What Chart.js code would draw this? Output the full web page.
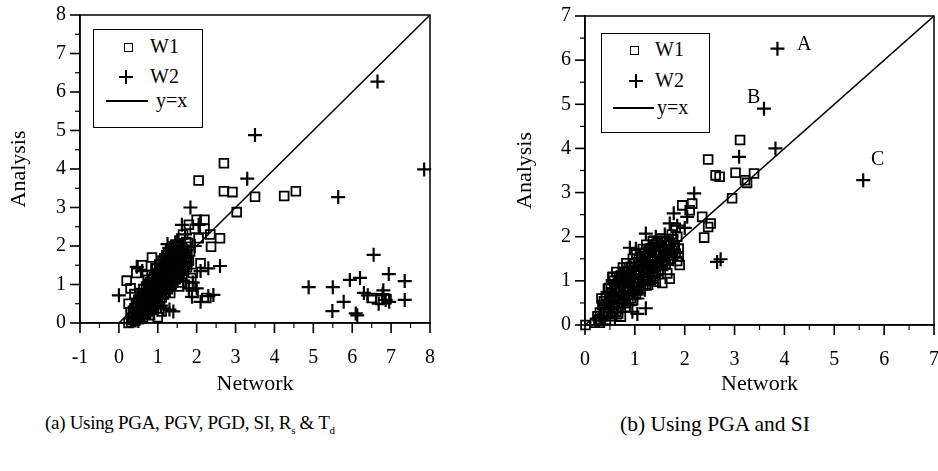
<!DOCTYPE html>
<html lang="en">
<head>
<meta charset="UTF-8">
<title>Network vs Analysis</title>
<script src="https://cdn.jsdelivr.net/npm/chart.js"></script>
<style>
    body {
        margin: 0;
        width: 938px;
        height: 471px;
        overflow: hidden;
        background: #fff;
        font-family: "Times New Roman", "Liberation Serif", Times, serif;
        color: #000;
        position: relative;
    }
    .panel { position: absolute; top: 0; height: 400px; }
    #panelA { left: 0; width: 469px; }
    #panelB { left: 469px; width: 475px; }
    .legend {
        position: absolute;
        border: 1.5px solid #000;
        background: #fff;
        font-size: 20px;
    }
    .legend .sq {
        position: absolute;
        width: 7px; height: 7px;
        border: 1.8px solid #000;
    }
    .legend .cr { position: absolute; width: 14px; height: 14px; }
    .legend .cr:before, .legend .cr:after { content: ''; position: absolute; background: #000; }
    .legend .cr:before { left: 6px; top: 0; width: 2.2px; height: 14px; }
    .legend .cr:after { left: 0; top: 6px; width: 14px; height: 2.2px; }
    .legend .ln { position: absolute; height: 1.5px; background: #000; }
    .legend .txt { position: absolute; }
    .note { position: absolute; font-size: 20px; }
    .caption { position: absolute; top: 412px; white-space: nowrap; }
    .caption sub { font-size: 11px; }
</style>
</head>
<body>

<div class="panel" id="panelA"><canvas id="chartA"></canvas></div>
<div class="panel" id="panelB"><canvas id="chartB"></canvas></div>

<div class="legend" style="left:93px; top:29px; width:108px; height:97px;">
    <div class="sq" style="left:30px; top:13px;"></div><div class="txt" style="left:56px; top:5px;">W1</div>
    <div class="cr" style="left:25px; top:40px;"></div><div class="txt" style="left:56px; top:35px;">W2</div>
    <div class="ln" style="left:12px; top:70px; width:42px;"></div><div class="txt" style="left:62px; top:59px;">y=x</div>
</div>
<div class="legend" style="left:601px; top:33px; width:107px; height:98px;">
    <div class="sq" style="left:28px; top:12px;"></div><div class="txt" style="left:53px; top:4px;">W1</div>
    <div class="cr" style="left:27px; top:40px;"></div><div class="txt" style="left:53px; top:35px;">W2</div>
    <div class="ln" style="left:11px; top:73px; width:41px;"></div><div class="txt" style="left:55px; top:62px;">y=x</div>
</div>

<div class="note" style="left:797px; top:32px;">A</div>
<div class="note" style="left:747px; top:85px;">B</div>
<div class="note" style="left:871px; top:147px;">C</div>

<div class="caption" style="left:45px; font-size:19px; letter-spacing:-0.3px;">(a) Using PGA, PGV, PGD, SI, R<sub>s</sub> &amp; T<sub>d</sub></div>
<div class="caption" style="left:620px; font-size:21.5px;">(b) Using PGA and SI</div>

<script>
    // panel (a): six inputs
    const w1A = [
        [2.7,4.15],[2.05,3.7],[2.7,3.42],[2.92,3.4],[3.5,3.28],[3.03,2.88],[4.25,3.3],[4.55,3.42],
        [0.2,1.1],[2.0,2.68],[2.2,2.68],[2.6,2.2],[2.37,1.98],[2.1,1.55],[1.86,1.17],[2.25,0.65],
        [1.92,0.78],[0.25,0.0],[0.25,0.5],[0.85,1.7],[1.32,0.78],[0.8,0.2],[6.5,0.65],[6.72,0.6],[6.88,0.62],
        [2.2,2.45],[2.35,2.3],[1.8,2.55],[1.75,1.45],[1.9,1.3],[1.6,1.05],[1.55,0.95],[0.3,0.9],
        [0.45,1.3],[0.6,1.5],[0.4,0.75],[1.1,0.3],[1.0,0.15],[0.9,0.35],[1.85,0.95],[2.05,2.2],
        [1.65,2.3],[1.95,2.45],
        [0.32,0.02],[0.35,0.14],[0.3,0.28],
        [0.42,0.06],[0.45,0.22],[0.4,0.38],[0.44,0.52],
        [0.52,0.1],[0.5,0.27],[0.55,0.42],[0.5,0.6],[0.54,0.78],
        [0.62,0.14],[0.6,0.32],[0.65,0.5],[0.6,0.66],[0.63,0.88],
        [0.7,0.22],[0.73,0.4],[0.68,0.57],[0.72,0.75],[0.7,0.95],[0.74,1.12],
        [0.8,0.34],[0.83,0.52],[0.78,0.7],[0.82,0.9],[0.8,1.06],[0.84,1.25],
        [0.9,0.46],[0.92,0.62],[0.88,0.82],[0.93,1.0],[0.9,1.2],[0.94,1.42],
        [1.0,0.55],[1.03,0.76],[0.98,0.95],[1.02,1.12],[1.0,1.3],[1.04,1.52],
        [1.1,0.66],[1.12,0.86],[1.08,1.05],[1.13,1.25],[1.1,1.44],[1.12,1.62],
        [1.2,0.8],[1.22,1.0],[1.18,1.2],[1.23,1.36],[1.2,1.56],[1.22,1.76],
        [1.3,0.94],[1.32,1.14],[1.28,1.32],[1.33,1.5],[1.3,1.7],[1.32,1.9],
        [1.4,1.06],[1.42,1.26],[1.38,1.45],[1.43,1.65],[1.4,1.85],
        [1.5,1.2],[1.52,1.4],[1.48,1.6],[1.53,1.8],[1.5,2.0],
        [1.6,1.35],[1.62,1.55],[1.58,1.76],[1.63,1.95],
        [1.7,1.5],[1.72,1.7],[1.68,1.9],[1.73,2.1],
        [1.8,1.62],[1.83,1.86],[1.78,2.08],
        // second, offset layer of the dense core
        [0.37,0.08],[0.36,0.32],[0.47,0.14],[0.48,0.44],[0.57,0.2],[0.56,0.52],[0.58,0.7],
        [0.66,0.24],[0.67,0.42],[0.66,0.74],[0.76,0.3],[0.77,0.48],[0.76,0.64],[0.77,0.86],[0.77,1.02],
        [0.86,0.42],[0.87,0.6],[0.85,0.78],[0.87,0.98],[0.86,1.14],[0.97,0.5],[0.96,0.7],[0.95,0.88],
        [0.97,1.06],[0.96,1.24],[0.97,1.4],[1.06,0.62],[1.07,0.8],[1.05,0.98],[1.07,1.18],[1.06,1.36],
        [1.16,0.74],[1.17,0.92],[1.15,1.12],[1.17,1.3],[1.16,1.5],[1.17,1.68],[1.26,0.88],[1.27,1.06],
        [1.25,1.26],[1.27,1.44],[1.26,1.62],[1.26,1.82],[1.36,1.0],[1.37,1.2],[1.35,1.38],[1.37,1.58],
        [1.36,1.76],[1.46,1.14],[1.47,1.32],[1.45,1.52],[1.47,1.72],[1.46,1.9],[1.56,1.28],[1.57,1.46],
        [1.55,1.66],[1.57,1.86],[1.66,1.44],[1.67,1.62],[1.65,1.82],[1.76,1.58],[1.76,1.8],[1.75,1.98]
    ];
    const w2A = [
        [6.65,6.27],[3.5,4.88],[3.3,3.75],[7.85,3.99],[5.64,3.27],[6.55,1.77],[4.88,0.93],[5.5,0.93],
        [5.94,1.12],[6.2,1.17],[6.94,1.27],[7.35,1.09],[5.78,0.55],[5.49,0.31],[6.09,0.25],[6.13,0.2],
        [6.3,0.78],[6.4,0.72],[6.78,0.75],[6.86,0.6],[6.68,0.5],[7.35,0.6],[6.95,0.55],[6.8,0.85],
        [0.0,0.72],[1.84,3.0],[1.62,2.55],[2.05,2.55],[2.6,1.48],[2.3,1.42],[2.1,0.55],[2.43,0.73],
        [2.3,0.7],[1.88,0.68],[2.0,0.9],[1.15,0.38],[1.4,0.3],[1.08,0.45],[1.3,0.35],[0.46,1.46],
        [0.6,1.35],[1.9,1.05],[1.65,1.1],[2.1,1.35],[1.7,2.3],[1.3,1.95],[1.5,2.15],[1.95,2.0],
        [1.8,0.9],[1.25,2.05],[1.45,2.1],
        [0.5,0.05],[0.6,0.2],[0.7,0.45],[0.8,0.6],[0.9,0.75],[1.0,0.9],[1.1,1.1],[1.2,1.3],
        [1.3,1.45],[1.4,1.6],[1.5,1.75],[1.6,1.85],[0.65,0.8],[0.85,1.1],[1.05,1.35],[1.25,1.6],
        [1.45,1.45],[1.55,1.3],[1.35,1.15],[1.15,0.95],[0.95,0.55],[0.75,0.3],[0.55,0.5],[1.7,1.6],[1.6,2.0],
        [0.45,0.3],[0.58,0.62],[0.72,0.62],[0.82,0.85],[0.92,1.0],[1.02,1.2],[1.12,1.4],[1.22,1.5],
        [1.32,1.65],[1.42,1.8],[1.52,1.55],[1.62,1.7],[0.88,0.4],[1.0,0.7],[1.1,0.8],[1.22,1.05]
    ];

    // panel (b): PGA and SI only
    const w1B = [
        [3.11,4.19],[2.47,3.75],[2.62,3.39],[2.7,3.36],[3.02,3.45],[3.39,3.43],[3.21,3.28],[3.25,3.22],
        [2.95,2.87],[2.15,2.75],[1.95,2.71],[2.35,2.45],[2.47,2.22],[2.52,2.3],[2.39,1.98],[1.9,1.36],
        [1.65,1.17],[1.42,0.98],[1.55,0.95],[0.01,0.0],[0.72,0.19],[0.56,1.09],[1.88,1.73],[1.88,1.55],
        [1.7,1.05],[1.85,1.45],[2.1,2.6],[0.3,0.05],
        [0.2,0.05],[0.25,0.2],
        [0.32,0.1],[0.3,0.28],[0.35,0.45],[0.33,0.6],
        [0.42,0.12],[0.4,0.3],[0.45,0.48],[0.42,0.65],[0.46,0.82],
        [0.52,0.2],[0.55,0.38],[0.5,0.56],[0.54,0.74],[0.52,0.92],[0.55,1.08],
        [0.62,0.3],[0.6,0.48],[0.65,0.66],[0.62,0.84],[0.66,1.0],[0.63,1.2],
        [0.72,0.4],[0.75,0.58],[0.7,0.76],[0.74,0.94],[0.72,1.12],[0.76,1.3],
        [0.82,0.5],[0.8,0.68],[0.85,0.86],[0.82,1.04],[0.86,1.22],[0.83,1.4],
        [0.92,0.6],[0.95,0.78],[0.9,0.96],[0.94,1.14],[0.92,1.32],[0.96,1.5],
        [1.02,0.7],[1.0,0.88],[1.05,1.06],[1.02,1.24],[1.06,1.42],[1.03,1.6],
        [1.12,0.82],[1.15,1.0],[1.1,1.18],[1.14,1.36],[1.12,1.54],[1.16,1.72],
        [1.22,0.92],[1.2,1.1],[1.25,1.28],[1.22,1.46],[1.26,1.64],[1.23,1.82],
        [1.32,1.02],[1.35,1.2],[1.3,1.38],[1.34,1.56],[1.32,1.74],[1.36,1.9],
        [1.42,1.15],[1.4,1.32],[1.45,1.5],[1.42,1.68],[1.46,1.86],
        [1.52,1.25],[1.55,1.42],[1.5,1.6],[1.54,1.78],[1.52,1.96],
        [1.62,1.38],[1.6,1.55],[1.65,1.72],[1.62,1.9],
        [1.72,1.5],[1.75,1.68],[1.7,1.86],[1.74,2.05],
        [1.82,1.62],[1.8,1.8],[1.85,2.0],[1.82,2.2],
        // second, offset layer of the dense core
        [0.27,0.12],[0.37,0.2],[0.38,0.38],[0.38,0.54],[0.47,0.26],[0.48,0.4],[0.49,0.66],[0.48,0.84],
        [0.57,0.3],[0.58,0.46],[0.57,0.64],[0.59,0.82],[0.58,1.0],[0.67,0.4],[0.68,0.56],[0.67,0.74],
        [0.69,0.92],[0.68,1.1],[0.77,0.5],[0.78,0.66],[0.77,0.84],[0.79,1.02],[0.78,1.2],[0.87,0.6],
        [0.88,0.76],[0.87,0.94],[0.89,1.12],[0.88,1.3],[0.97,0.68],[0.98,0.86],[0.97,1.04],[0.99,1.22],
        [0.98,1.4],[1.07,0.78],[1.08,0.96],[1.07,1.14],[1.09,1.32],[1.08,1.5],[1.17,0.9],[1.18,1.08],
        [1.17,1.26],[1.19,1.44],[1.18,1.62],[1.27,1.0],[1.28,1.18],[1.27,1.36],[1.29,1.54],[1.28,1.72],
        [1.37,1.1],[1.38,1.28],[1.37,1.46],[1.39,1.64],[1.38,1.82],[1.47,1.22],[1.48,1.4],[1.47,1.58],
        [1.49,1.76],[1.57,1.34],[1.58,1.52],[1.57,1.7],[1.59,1.88],[1.67,1.46],[1.68,1.64],[1.67,1.82],
        [1.77,1.58],[1.78,1.76],[1.77,1.94]
    ];
    const w2B = [
        [3.86,6.26],[3.59,4.9],[3.82,4.0],[3.09,3.81],[5.58,3.28],[2.72,1.49],[2.65,1.43],[2.19,2.98],
        [2.05,2.45],[1.78,2.53],[1.22,0.38],[0.95,0.3],[1.05,0.25],[1.22,2.07],[1.02,1.73],[1.42,2.0],
        [1.7,2.3],[2.0,2.2],[1.85,2.25],[0.9,1.75],
        [0.3,0.2],[0.4,0.45],[0.5,0.3],[0.55,0.65],[0.65,0.5],[0.7,0.9],[0.8,0.7],[0.85,1.1],
        [0.95,0.95],[1.0,1.3],[1.1,1.15],[1.15,1.5],[1.25,1.35],[1.3,1.7],[1.4,1.55],[1.45,1.85],
        [1.55,1.7],[1.6,2.05],[1.75,1.9],[0.6,0.15],[0.75,0.3],[0.9,0.45],[1.05,0.6],[1.2,0.8],[1.35,0.95],
        [0.45,0.7],[0.6,0.95],[0.75,1.15],[0.9,1.3],[1.05,1.5],[1.2,1.65],[1.35,1.8],[1.5,1.45],
        [0.8,0.5],[1.0,0.75],[1.15,0.95],[1.3,1.2],[1.45,1.3],[1.65,1.55]
    ];

    const rangeA = { xMin: -1, xMax: 8, yMin: 0, yMax: 8 };
    const rangeB = { xMin: 0, xMax: 7, yMin: 0, yMax: 7 };

    const FONT = '"Times New Roman", "Liberation Serif", Times, serif';
    const toPts = arr => arr.map(p => ({ x: p[0], y: p[1] }));

    // frame round the plot area plus long/short ticks at every half unit
    const framePlugin = {
        id: 'frame',
        afterDraw(chart) {
            const { ctx, chartArea: a, scales } = chart;
            ctx.save();
            ctx.strokeStyle = '#000';
            ctx.lineWidth = 1.5;
            ctx.strokeRect(a.left, a.top, a.right - a.left, a.bottom - a.top);
            const xs = scales.x, ys = scales.y;
            for (let v = xs.min; v <= xs.max + 1e-9; v += 0.5) {
                const major = Math.abs(v - Math.round(v)) < 1e-9;
                const px = xs.getPixelForValue(v);
                ctx.lineWidth = major ? 1.6 : 1.2;
                ctx.beginPath();
                ctx.moveTo(px, a.bottom);
                ctx.lineTo(px, a.bottom + (major ? 10 : 5));
                ctx.stroke();
            }
            for (let v = ys.min; v <= ys.max + 1e-9; v += 0.5) {
                const major = Math.abs(v - Math.round(v)) < 1e-9;
                const py = ys.getPixelForValue(v);
                ctx.lineWidth = major ? 1.6 : 1.2;
                ctx.beginPath();
                ctx.moveTo(a.left, py);
                ctx.lineTo(a.left - (major ? 10 : 5), py);
                ctx.stroke();
            }
            ctx.restore();
        }
    };

    function makeChart(id, w1, w2, range, pad, yWidth, xHeight) {
        return new Chart(document.getElementById(id), {
            type: 'scatter',
            data: {
                datasets: [
                    {
                        label: 'W1',
                        data: toPts(w1),
                        pointStyle: 'rect',
                        pointRadius: 6.2,
                        borderColor: '#000',
                        borderWidth: 1.8,
                        backgroundColor: 'rgba(255,255,255,0)',
                        clip: false,
                        order: 2
                    },
                    {
                        label: 'W2',
                        data: toPts(w2),
                        pointStyle: 'cross',
                        pointRadius: 7,
                        borderColor: '#000',
                        borderWidth: 2.2,
                        clip: false,
                        order: 1
                    },
                    {
                        label: 'y=x',
                        type: 'line',
                        data: [{ x: 0, y: 0 }, { x: range.xMax, y: range.yMax }],
                        borderColor: '#000',
                        borderWidth: 1.5,
                        pointRadius: 0,
                        order: 3
                    }
                ]
            },
            options: {
                responsive: true,
                maintainAspectRatio: false,
                animation: false,
                events: [],
                layout: { padding: pad, autoPadding: false },
                plugins: { legend: { display: false }, tooltip: { enabled: false } },
                scales: {
                    x: {
                        type: 'linear',
                        min: range.xMin,
                        max: range.xMax,
                        afterFit: s => { s.height = xHeight; },
                        // real tick marks come from framePlugin; tickLength only pushes the labels down
                        grid: { display: true, drawOnChartArea: false, drawTicks: true, tickLength: 21, tickColor: 'rgba(0,0,0,0)' },
                        border: { display: true, color: '#000', width: 1.5 },
                        ticks: { stepSize: 1, padding: 2, maxRotation: 0, color: '#000', font: { family: FONT, size: 20 } },
                        title: { display: true, text: 'Network', color: '#000', padding: 0, font: { family: FONT, size: 22 } }
                    },
                    y: {
                        type: 'linear',
                        min: range.yMin,
                        max: range.yMax,
                        afterFit: s => { s.width = yWidth; },
                        grid: { display: true, drawOnChartArea: false, drawTicks: true, tickLength: 13, tickColor: 'rgba(0,0,0,0)' },
                        border: { display: true, color: '#000', width: 1.5 },
                        ticks: { stepSize: 1, padding: 1, color: '#000', font: { family: FONT, size: 20 } },
                        title: { display: true, text: 'Analysis', color: '#000', padding: 0, font: { family: FONT, size: 22 } }
                    }
                }
            },
            plugins: [framePlugin]
        });
    }

    makeChart('chartA', w1A, w2A, rangeA, { left: 6, top: 15, right: 39, bottom: 3 }, 74, 74);
    makeChart('chartB', w1B, w2B, rangeB, { left: 43, top: 16, right: 10, bottom: 3 }, 73, 72);
</script>
</body>
</html>
